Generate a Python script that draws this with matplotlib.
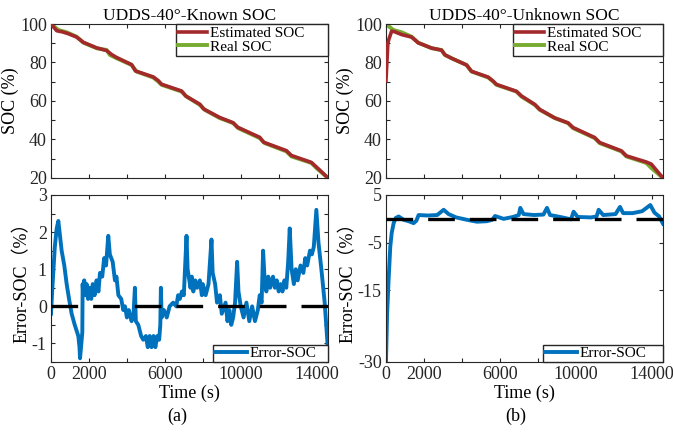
import matplotlib.pyplot as plt

# real SOC (same drive cycle for both cases)
t_real = [0, 386, 825, 1351, 1702, 2404, 2930, 3106, 3457, 4247, 4510, 5387, 5650, 5826,
          6879, 7142, 7844, 8107, 8897, 9599, 9862, 11003, 11266, 12406, 12669, 13722,
          13985, 14600]
soc_real = [100, 96.9, 95.7, 93.4, 90.3, 87.4, 86.5, 83.9, 82.2, 78.7, 75.3, 72.2, 70.1, 68.4,
            64.9, 62.3, 58.0, 55.4, 51.1, 48.5, 45.9, 40.7, 38.1, 33.8, 31.2, 27.8, 25.2, 20]

# estimated SOC, known initial SOC
t_est_a = [0, 300, 600, 900, 1351, 1702, 2404, 2930, 3200, 3457, 4247, 4450, 5387, 5650, 5826,
           6879, 7100, 7844, 8050, 8897, 9599, 9830, 11003, 11200, 12406, 12669, 13722,
           14000, 14600]
soc_est_a = [100, 96.5, 95.9, 95.0, 93.2, 90.5, 87.6, 86.2, 84.1, 82.6, 78.9, 75.6, 72.5, 70.6,
             68.7, 65.2, 62.6, 58.3, 55.8, 51.4, 48.7, 46.4, 41.1, 38.6, 34.2, 31.7, 28.1,
             25.6, 20]

# estimated SOC, unknown initial SOC (starts at 70 %)
t_est_b = [0, 100, 150, 300, 450, 825, 1351, 1702, 2404, 2930, 3106, 3457, 4247, 4510, 5387,
           5650, 5826, 6879, 7142, 7844, 8107, 8897, 9599, 9862, 11003, 11266, 12406, 12669,
           13722, 13985, 14600]
soc_est_b = [70.5, 90, 92, 96.3, 96.0, 94.5, 93.2, 90.2, 87.5, 86.4, 84.0, 82.2, 78.7, 75.4,
             72.4, 70.3, 68.6, 65.0, 62.6, 58.2, 55.6, 51.2, 48.6, 46.2, 41.0, 38.4, 34.1,
             31.5, 28.3, 27.2, 20]

# error (a), ragged band
t_err_a = [0, 60, 120, 200, 300, 386, 450, 560, 700, 825, 950, 1088, 1250, 1439, 1500, 1530,
           1600, 1650, 1667, 1700, 1750, 1800, 1877, 1950, 2050, 2120, 2200, 2300, 2400, 2500,
           2580, 2700, 2800, 2900, 3018, 3100, 3250, 3369, 3450, 3550, 3700, 3808, 3900, 4000,
           4100, 4247, 4350, 4422, 4470, 4600, 4750, 4861, 5000, 5100, 5200, 5300, 5400, 5500,
           5600, 5700, 5760, 5791, 5830, 5950, 6100, 6250, 6440, 6600, 6700, 6791, 6900, 7000,
           7080, 7142, 7200, 7350, 7420, 7500, 7600, 7700, 7844, 7950, 8000, 8150, 8300, 8458,
           8520, 8650, 8750, 8900, 9000, 9200, 9300, 9400, 9500, 9599, 9700, 9810, 9880, 10000,
           10150, 10300, 10450, 10600, 10750, 10900, 11000, 11100, 11178, 11260, 11350, 11450,
           11550, 11700, 11800, 11900, 12000, 12100, 12200, 12300, 12400, 12500, 12582, 12680,
           12800, 12900, 13000, 13150, 13300, 13400, 13500, 13650, 13750, 13850, 13985, 14100,
           14250, 14424, 14520, 14600]
err_a = [-0.2, 0.4, 0.9, 1.6, 2.1, 2.3, 2.0, 1.5, 1.1, 0.6, 0.2, -0.2, -0.5, -0.8, -1.1, -1.4,
         -1.0, -0.7, 0.6, 0.3, 0.7, 0.3, 0.6, 0.2, 0.5, 0.2, 0.6, 0.3, 0.7, 0.4,
         0.9, 0.8, 1.3, 1.1, 1.9, 1.4, 1.2, 0.7, 0.8, 0.3, 0.2, -0.1, 0.0, -0.3,
         -0.1, -0.4, -0.2, 0.5, -0.4, -0.5, -0.8, -0.9, -0.8, -1.1, -0.8, -1.1, -0.8, -1.1,
         -0.8, -0.9, -0.5, 0.5, -0.3, -0.1, -0.3, 0.0, 0.1, 0.0, 0.3, 0.2, 0.4, 0.3,
         1.2, 1.9, 1.0, 0.5, 0.8, 0.4, 0.7, 0.5, 0.7, 0.3, 0.6, 0.3, 0.6, 1.8,
         0.9, 0.6, 0.1, 0.3, -0.2, 0.1, -0.4, -0.1, -0.5, -0.3, 0.1, 1.2, 0.4, 0.0,
         -0.3, 0.1, -0.4, 0.0, -0.4, -0.1, 0.3, 0.1, 1.5, 0.7, 0.4, 0.8,
         0.5, 0.8, 0.5, 0.7, 0.4, 0.6, 0.4, 0.7, 0.5, 1.2, 2.1, 1.0,
         0.6, 1.0, 0.7, 1.1, 0.9, 1.3, 1.1, 1.5, 1.4, 1.6, 2.6, 1.7,
         1.0, 0.1, -0.6, -1.2]

# error (b)
t_err_b = [0, 60, 140, 228, 300, 404, 520, 668, 931, 1200, 1458, 1600, 1722, 2200, 2700, 3040,
           3300, 3700, 4270, 4797, 5300, 5600, 5750, 6200, 6700, 7000, 7080, 7250, 7800, 8300,
           8486, 8650, 9300, 9750, 9890, 10100, 10800, 11100, 11210, 11450, 12100, 12335,
           12500, 13000, 13500, 13932, 14150, 14400, 14547, 14600]
err_b = [-30, -20, -12.7, -5.8, -3.0, -0.9, 0.2, 0.5, -0.2, -0.5, -0.9, -0.4, 0.8, 0.7, 0.8,
         1.9, 1.0, 0.3, -0.2, -0.6, -0.5, -0.2, 0.6, 0.0, 0.4, 0.8, 2.3, 1.0, 0.8, 0.9,
         2.3, 0.8, 0.3, -0.1, 1.5, 0.4, 0.3, 0.5, 1.9, 0.8, 1.0, 2.5, 1.2, 1.2, 1.6,
         2.9, 1.3, 0.5, -0.6, -1.0]

RED = '#A3292B'
GREEN = '#77AC30'
BLUE = '#0072BD'
GRAY = '#262626'

plt.rcParams['font.family'] = ['Liberation Serif', 'Noto Sans CJK SC']
plt.rcParams['font.size'] = 13
plt.rcParams['axes.edgecolor'] = GRAY
plt.rcParams['xtick.color'] = GRAY
plt.rcParams['ytick.color'] = GRAY
plt.rcParams['axes.linewidth'] = 0.8

fig = plt.figure(figsize=(6.73, 4.34), dpi=100)

xticks = list(range(0, 14001, 2000))
xlabels = ['0', '2000', '', '6000', '', '10000', '', '14000']


def style(ax, show_x):
    ax.set_xlim(0, 14600)
    ax.set_xticks(xticks)
    if show_x:
        ax.set_xticklabels(xlabels)
        ax.set_xlabel('Time (s)', labelpad=1)
    else:
        ax.set_xticklabels([])
    ax.tick_params(direction='in', top=True, right=True, length=3, pad=3)


pos = {'a_top': [0.0758, 0.5899, 0.4116, 0.3548], 'a_bot': [0.0758, 0.1659, 0.4116, 0.3848],
       'b_top': [0.5735, 0.5899, 0.4116, 0.3548], 'b_bot': [0.5735, 0.1659, 0.4116, 0.3848]}

# legend boxes (x0, width) in axes fraction
leg_top = {'a': (0.451, 0.549), 'b': (0.458, 0.542)}
leg_bot = {'a': (0.585, 0.415), 'b': (0.567, 0.433)}

panels = [('a', 'UDDS-40°-Known SOC', t_est_a, soc_est_a, t_err_a, err_a),
          ('b', 'UDDS-40°-Unknown SOC', t_est_b, soc_est_b, t_err_b, err_b)]

for key, title, t_est, soc_est, t_err, err in panels:
    ax = fig.add_axes(pos[key + '_top'])
    g, = ax.plot(t_real, soc_real, color=GREEN, lw=2.8, zorder=2)
    r, = ax.plot(t_est, soc_est, color=RED, lw=2.6, zorder=3)
    ax.set_ylim(20, 100)
    ax.set_yticks(range(20, 101, 10))
    ax.set_yticklabels(['20', '', '40', '', '60', '', '80', '', '100'])
    ax.set_ylabel('SOC (%)', labelpad=1)
    ax.set_title(title, fontsize=12.5, pad=3)
    style(ax, False)
    x0, w = leg_top[key]
    ax.legend([r, g], ['Estimated SOC', 'Real SOC'], loc='upper left',
              bbox_to_anchor=(x0, 0, w, 1), mode='expand', fontsize=11,
              fancybox=False, edgecolor=GRAY, framealpha=1, borderpad=0.15,
              labelspacing=0.0, handlelength=1.9, handletextpad=0.2, borderaxespad=0)

    ax2 = fig.add_axes(pos[key + '_bot'])
    e, = ax2.plot(t_err, err, color=BLUE, lw=2.8, zorder=2)
    ax2.plot([0, 14600], [0, 0], color='black', lw=2.4, ls=(0, (8, 4.5)), zorder=3)
    if key == 'a':
        ax2.set_ylim(-1.5, 3)
        ax2.set_yticks([-1.5, -1, -0.5, 0, 0.5, 1, 1.5, 2, 2.5, 3])
        ax2.set_yticklabels(['', '-1', '', '0', '', '1', '', '2', '', '3'])
    else:
        ax2.set_ylim(-30, 5)
        ax2.set_yticks([-30, -15, -5, 5])
        ax2.set_yticklabels(['-30', '-15', '-5', '5'])
    ax2.set_ylabel('Error-SOC（%）', labelpad=1)
    style(ax2, True)
    x0, w = leg_bot[key]
    ax2.legend([e], ['Error-SOC'], loc='lower left', bbox_to_anchor=(x0, 0, w, 1),
               mode='expand', fontsize=11, fancybox=False, edgecolor=GRAY,
               framealpha=1, borderpad=0.1, handlelength=2.1, handletextpad=0.2,
               borderaxespad=0)

fig.text(0.263, 0.04, '(a)', ha='center', va='center', fontsize=13)
fig.text(0.766, 0.04, '(b)', ha='center', va='center', fontsize=13)

fig.savefig('out.png', dpi=100)
